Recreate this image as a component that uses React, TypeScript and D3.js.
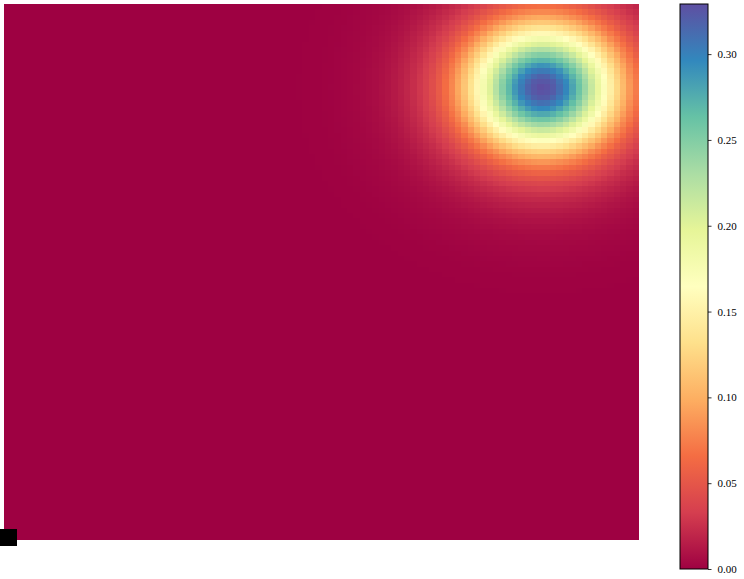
import React, { useEffect, useRef } from "react";
import * as d3 from "d3";

// grid of the image (100 x 100 cells)
const nCols = 100;
const nRows = 100;
// centre of the bump, in cell units (column, row from the top)
const peakCol = 84.3;
const peakRow = 15.2;
// value at a distance (in cells) from the centre
const profileRadius = [0, 2, 4, 6, 8, 10, 12, 14, 16, 18, 20, 22, 24, 26, 28, 30, 34, 40, 200];
const profileValue = [0.331, 0.321, 0.294, 0.255, 0.209, 0.163, 0.12, 0.083, 0.056, 0.037, 0.025, 0.017, 0.011, 0.007, 0.0045, 0.003, 0.001, 0, 0];
const ticks = [0.0, 0.05, 0.1, 0.15, 0.2, 0.25, 0.3];
// matplotlib "Spectral"
const spectral = ["#9e0142", "#d53e4f", "#f46d43", "#fdae61", "#fee08b", "#ffffbf", "#e6f598", "#abdda4", "#66c2a5", "#3288bd", "#5e4fa2"];

const W = 744;
const H = 579;

export default function App() {
  const ref = useRef<SVGSVGElement>(null);

  useEffect(() => {
    const svg = d3.select(ref.current);
    svg.selectAll("*").remove();

    const radial = d3.scaleLinear().domain(profileRadius).range(profileValue).clamp(true);
    let cells: { c: number; r: number; v: number }[] = [];
    for (let r = 0; r < nRows; r++) {
      for (let c = 0; c < nCols; c++) {
        const d = Math.hypot(c - peakCol, r - peakRow);
        cells.push({ c, r, v: radial(d) });
      }
    }
    const vmin = d3.min(cells, d => d.v) as number;
    const vmax = d3.max(cells, d => d.v) as number;

    const x = d3.scaleBand<number>().domain(d3.range(nCols)).range([4, 639]);
    const y = d3.scaleBand<number>().domain(d3.range(nRows)).range([4, 540]);
    const t = d3.scaleLinear().domain([vmin, vmax]).range([0, 1]);
    const cmap = d3
      .scaleLinear<string>()
      .domain(spectral.map((_, i) => i / (spectral.length - 1)))
      .range(spectral)
      .interpolate(d3.interpolateRgb);

    svg
      .append("g")
      .attr("shape-rendering", "crispEdges")
      .selectAll("rect")
      .data(cells)
      .enter()
      .append("rect")
      .attr("x", d => x(d.c) as number)
      .attr("y", d => y(d.r) as number)
      .attr("width", x.bandwidth() + 0.4)
      .attr("height", y.bandwidth() + 0.4)
      .attr("fill", d => cmap(t(d.v)));

    // colorbar
    const cbX = 680,
      cbW = 28;
    const cy = d3.scaleLinear().domain([vmin, vmax]).range([569, 4]);
    const grad = svg
      .append("defs")
      .append("linearGradient")
      .attr("id", "cb")
      .attr("x1", 0)
      .attr("y1", 1)
      .attr("x2", 0)
      .attr("y2", 0);
    spectral.forEach((col, i) => {
      grad
        .append("stop")
        .attr("offset", i / (spectral.length - 1))
        .attr("stop-color", col);
    });
    svg
      .append("rect")
      .attr("x", cbX)
      .attr("y", 4)
      .attr("width", cbW)
      .attr("height", 565)
      .attr("fill", "url(#cb)")
      .attr("stroke", "#000")
      .attr("stroke-width", 1);

    const axis = svg
      .append("g")
      .attr("transform", `translate(${cbX + cbW},0)`)
      .call(
        d3
          .axisRight(cy)
          .tickValues(ticks)
          .tickSize(3.5)
          .tickPadding(6)
          .tickFormat(d3.format(".2f"))
      );
    axis.select(".domain").remove();
    axis.selectAll("line").attr("stroke", "#000").attr("stroke-width", 0.8);
    axis
      .selectAll("text")
      .attr("fill", "#000")
      .attr("font-family", "'Liberation Serif', serif")
      .attr("font-size", 11);

    // small black marker at the lower left corner
    svg.append("rect").attr("x", 0).attr("y", 529).attr("width", 17).attr("height", 17).attr("fill", "#000");
  }, []);

  return (
    <svg
      ref={ref}
      width={W}
      height={H}
      style={{ position: "absolute", left: 0, top: 0, background: "#fff" }}
    />
  );
}
